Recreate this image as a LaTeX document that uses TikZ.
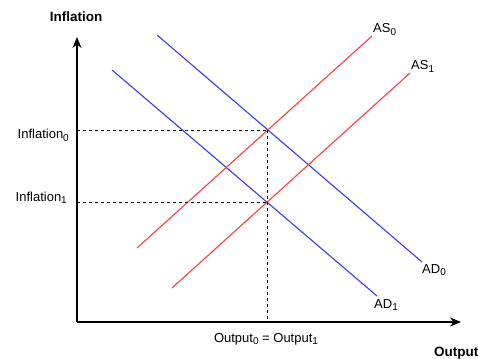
\documentclass[tikz,border=0pt]{standalone}
\usepackage{fontspec}
\setmainfont{Liberation Sans}
\usetikzlibrary{arrows.meta, positioning}

\newcommand{\lowidx}[1]{\raisebox{-0.4ex}{\fontsize{10}{12}\selectfont #1}}

\tikzset{
  axis/.style={line width=1.1pt, -{Stealth[length=11pt, width=9pt]}},
  guide/.style={line width=0.8pt, dash pattern=on 3pt off 3pt},
  adline/.style={line width=1.1pt, draw={rgb,255:red,55;green,55;blue,255}},
  asline/.style={line width=1.1pt, draw={rgb,255:red,255;green,60;blue,60}},
  lbl/.style={inner sep=0pt, font=\fontsize{13}{15}\selectfont},
}

\begin{document}
\begin{tikzpicture}[x=1pt, y=-1pt]
    \useasboundingbox (0,0) rectangle (478,358);

    % axes
    \coordinate (o) at (77,322);
    \coordinate (ytop) at (77,37);
    \coordinate (xend) at (461,322);
    \draw[axis] (o) -- (ytop);
    \draw[axis] (o) -- (xend);
    \node[lbl, font=\fontsize{13.5}{15}\selectfont\bfseries] (ylab) at (76,17) {Inflation};
    \node[lbl, font=\fontsize{13.5}{15}\selectfont\bfseries, anchor=base west] (xlab) at (434,356) {Output};

    % curve ends
    \coordinate (ad0a) at (157,35);
    \coordinate (ad0b) at (422,262);
    \coordinate (ad1a) at (112,70);
    \coordinate (ad1b) at (377,296);
    \coordinate (as0a) at (137,248);
    \coordinate (as0b) at (372,36);
    \coordinate (as1a) at (172,288);
    \coordinate (as1b) at (410,73);

    \draw[adline] (ad0a) -- (ad0b);
    \draw[adline] (ad1a) -- (ad1b);
    \draw[asline] (as0a) -- (as0b);
    \draw[asline] (as1a) -- (as1b);

    \node[lbl, anchor=base west] (as0) at (373,33) {AS\lowidx{0}};
    \node[lbl, anchor=base west] (as1) at (411,70) {AS\lowidx{1}};
    \node[lbl, anchor=base west] (ad0) at (422,273) {AD\lowidx{0}};
    \node[lbl, anchor=base west] (ad1) at (374,308) {AD\lowidx{1}};

    % equilibria
    \coordinate (e0) at (267,130);
    \coordinate (e1) at (267,202);
    \draw[guide] (o |- e0) -- (e0);
    \draw[guide] (o |- e1) -- (e1);
    \draw[guide] (e0) -- (e0 |- o);

    \node[lbl, anchor=base east] (inf0) at (69,139) {Inflation\lowidx{0}};
    \node[lbl, anchor=base east] (inf1) at (67,201) {Inflation\lowidx{1}};
    \node[lbl, anchor=base] (out) at (266,342) {Output\lowidx{0} = Output\lowidx{1}};
\end{tikzpicture}
\end{document}
